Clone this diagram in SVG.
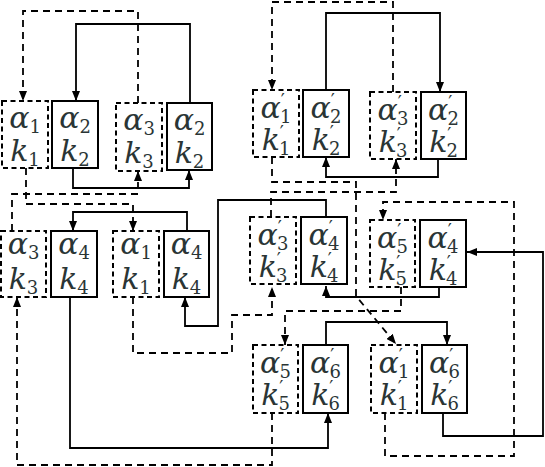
<svg xmlns="http://www.w3.org/2000/svg" width="545" height="467" viewBox="0 0 545 467">
<style>
.bs{fill:#fff;stroke:#000;stroke-width:2}
.bd{fill:#fff;stroke:#000;stroke-width:2;stroke-dasharray:5 3.5}
.s{fill:none;stroke:#000;stroke-width:1.8}
.d{fill:none;stroke:#000;stroke-width:1.8;stroke-dasharray:7 5}
.t{font-family:'DejaVu Serif',serif;font-style:italic;font-size:30px;fill:#2a3535;text-anchor:middle}
.u{font-style:normal;font-size:18px}
</style>
<defs>
<marker id="ah" viewBox="0 0 10 8" refX="10" refY="4" markerWidth="10" markerHeight="8" markerUnits="userSpaceOnUse" orient="auto">
<path d="M0,0 L10,4 L0,8 z" fill="#000"/>
</marker>
</defs>
<g id="connectors">
<path class="s" marker-end="url(#ah)" d="M190,103 V24 H76 V101"/>
<path class="s" marker-end="url(#ah)" d="M73,168 V188 H189 V170"/>
<path class="s" marker-end="url(#ah)" d="M187,231 V212 H73 V231"/>
<path class="s" marker-end="url(#ah)" d="M70,297 V448 H328 V413"/>
<path class="s" marker-end="url(#ah)" d="M326,217 V200 H218 V326 H185 V297"/>
<path class="s" marker-end="url(#ah)" d="M326,90 V13 H440 V92"/>
<path class="s" marker-end="url(#ah)" d="M438,159 V177 H326 V157"/>
<path class="s" marker-end="url(#ah)" d="M439,287 V297 H326 V286"/>
<path class="s" marker-end="url(#ah)" d="M443,413 V436 H543 V252 H467"/>
<path class="s" marker-end="url(#ah)" d="M326,345 V322 H447 V345"/>
<path class="d" marker-end="url(#ah)" d="M138,103 V11 H23 V101"/>
<path class="d" marker-end="url(#ah)" d="M12,231 V194 H138 V171"/>
<path class="d" marker-end="url(#ah)" d="M26,168 V204 H133 V231"/>
<path class="d" marker-end="url(#ah)" d="M272,413 V465 H17 V297"/>
<path class="d" marker-end="url(#ah)" d="M133,297 V353 H232 V315 H272 V287"/>
<path class="d" marker-end="url(#ah)" d="M393,92 V2 H272 V90"/>
<path class="d" marker-end="url(#ah)" d="M271,217 V192 H396 V159"/>
<path class="d" marker-end="url(#ah)" d="M272,157 V182 H356 V296 L396,344"/>
<path class="d" marker-end="url(#ah)" d="M385,413 V456 H514 V202 H383 V220"/>
<path class="d" marker-end="url(#ah)" d="M401,287 V311 H285 V345"/>
</g>
<g id="n1"><rect class="bd" x="2" y="101" width="46" height="67"/><text class="t" x="25" y="128">α<tspan class="u" dy="5">1</tspan></text><text class="t" x="25" y="161">k<tspan class="u" dy="5">1</tspan></text></g>
<g id="n2"><rect class="bs" x="52" y="101" width="46" height="67"/><text class="t" x="75" y="128">α<tspan class="u" dy="5">2</tspan></text><text class="t" x="75" y="161">k<tspan class="u" dy="5">2</tspan></text></g>
<g id="n3"><rect class="bd" x="116" y="103" width="46" height="68"/><text class="t" x="139" y="130">α<tspan class="u" dy="5">3</tspan></text><text class="t" x="139" y="163">k<tspan class="u" dy="5">3</tspan></text></g>
<g id="n4"><rect class="bs" x="167" y="103" width="45" height="67"/><text class="t" x="189.5" y="130">α<tspan class="u" dy="5">2</tspan></text><text class="t" x="189.5" y="163">k<tspan class="u" dy="5">2</tspan></text></g>
<g id="n5"><rect class="bd" x="253" y="90" width="46" height="67"/><text class="t" x="276" y="118">α<tspan class="u" dy="-11">′</tspan><tspan class="u" dx="-5" dy="16">1</tspan></text><text class="t" x="276" y="150">k<tspan class="u" dy="-11">′</tspan><tspan class="u" dx="-5" dy="16">1</tspan></text></g>
<g id="n6"><rect class="bs" x="303" y="90" width="46" height="67"/><text class="t" x="326" y="118">α<tspan class="u" dy="-11">′</tspan><tspan class="u" dx="-5" dy="16">2</tspan></text><text class="t" x="326" y="150">k<tspan class="u" dy="-11">′</tspan><tspan class="u" dx="-5" dy="16">2</tspan></text></g>
<g id="n7"><rect class="bd" x="370" y="92" width="46" height="67"/><text class="t" x="393" y="120">α<tspan class="u" dy="-11">′</tspan><tspan class="u" dx="-5" dy="16">3</tspan></text><text class="t" x="393" y="152">k<tspan class="u" dy="-11">′</tspan><tspan class="u" dx="-5" dy="16">3</tspan></text></g>
<g id="n8"><rect class="bs" x="421" y="92" width="45" height="67"/><text class="t" x="443.5" y="120">α<tspan class="u" dy="-11">′</tspan><tspan class="u" dx="-5" dy="16">2</tspan></text><text class="t" x="443.5" y="152">k<tspan class="u" dy="-11">′</tspan><tspan class="u" dx="-5" dy="16">2</tspan></text></g>
<g id="n9"><rect class="bd" x="1" y="231" width="45" height="66"/><text class="t" x="23.5" y="254">α<tspan class="u" dy="5">3</tspan></text><text class="t" x="23.5" y="289">k<tspan class="u" dy="5">3</tspan></text></g>
<g id="n10"><rect class="bs" x="51" y="231" width="46" height="66"/><text class="t" x="74" y="254">α<tspan class="u" dy="5">4</tspan></text><text class="t" x="74" y="289">k<tspan class="u" dy="5">4</tspan></text></g>
<g id="n11"><rect class="bd" x="113" y="231" width="46" height="66"/><text class="t" x="136" y="254">α<tspan class="u" dy="5">1</tspan></text><text class="t" x="136" y="289">k<tspan class="u" dy="5">1</tspan></text></g>
<g id="n12"><rect class="bs" x="164" y="231" width="45" height="66"/><text class="t" x="186.5" y="254">α<tspan class="u" dy="5">4</tspan></text><text class="t" x="186.5" y="289">k<tspan class="u" dy="5">4</tspan></text></g>
<g id="n13"><rect class="bd" x="250" y="217" width="46" height="67"/><text class="t" x="273" y="245">α<tspan class="u" dy="-11">′</tspan><tspan class="u" dx="-5" dy="16">3</tspan></text><text class="t" x="273" y="277">k<tspan class="u" dy="-11">′</tspan><tspan class="u" dx="-5" dy="16">3</tspan></text></g>
<g id="n14"><rect class="bs" x="301" y="217" width="46" height="67"/><text class="t" x="324" y="245">α<tspan class="u" dy="-11">′</tspan><tspan class="u" dx="-5" dy="16">4</tspan></text><text class="t" x="324" y="277">k<tspan class="u" dy="-11">′</tspan><tspan class="u" dx="-5" dy="16">4</tspan></text></g>
<g id="n15"><rect class="bd" x="370" y="220" width="45" height="67"/><text class="t" x="392.5" y="248">α<tspan class="u" dy="-11">′</tspan><tspan class="u" dx="-5" dy="16">5</tspan></text><text class="t" x="392.5" y="280">k<tspan class="u" dy="-11">′</tspan><tspan class="u" dx="-5" dy="16">5</tspan></text></g>
<g id="n16"><rect class="bs" x="420" y="220" width="46" height="67"/><text class="t" x="443" y="248">α<tspan class="u" dy="-11">′</tspan><tspan class="u" dx="-5" dy="16">4</tspan></text><text class="t" x="443" y="280">k<tspan class="u" dy="-11">′</tspan><tspan class="u" dx="-5" dy="16">4</tspan></text></g>
<g id="n17"><rect class="bd" x="253" y="345" width="45" height="68"/><text class="t" x="275.5" y="373">α<tspan class="u" dy="-11">′</tspan><tspan class="u" dx="-5" dy="16">5</tspan></text><text class="t" x="275.5" y="405">k<tspan class="u" dy="-11">′</tspan><tspan class="u" dx="-5" dy="16">5</tspan></text></g>
<g id="n18"><rect class="bs" x="303" y="345" width="45" height="68"/><text class="t" x="325.5" y="373">α<tspan class="u" dy="-11">′</tspan><tspan class="u" dx="-5" dy="16">6</tspan></text><text class="t" x="325.5" y="405">k<tspan class="u" dy="-11">′</tspan><tspan class="u" dx="-5" dy="16">6</tspan></text></g>
<g id="n19"><rect class="bd" x="371" y="345" width="46" height="68"/><text class="t" x="394" y="373">α<tspan class="u" dy="-11">′</tspan><tspan class="u" dx="-5" dy="16">1</tspan></text><text class="t" x="394" y="405">k<tspan class="u" dy="-11">′</tspan><tspan class="u" dx="-5" dy="16">1</tspan></text></g>
<g id="n20"><rect class="bs" x="422" y="345" width="45" height="68"/><text class="t" x="444.5" y="373">α<tspan class="u" dy="-11">′</tspan><tspan class="u" dx="-5" dy="16">6</tspan></text><text class="t" x="444.5" y="405">k<tspan class="u" dy="-11">′</tspan><tspan class="u" dx="-5" dy="16">6</tspan></text></g>
</svg>
